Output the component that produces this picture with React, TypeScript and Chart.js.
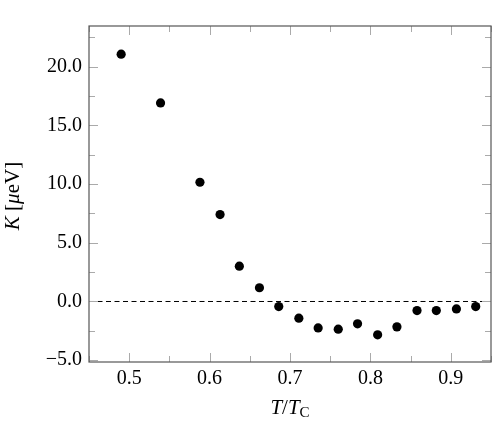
import { useEffect, useRef } from "react";
import { Chart, registerables } from "chart.js";

Chart.register(...registerables);

// Reduced temperature T/Tc and anisotropy constant K (µeV)
const temperatures = [0.49, 0.539, 0.588, 0.613, 0.637, 0.662, 0.686, 0.711, 0.735, 0.76, 0.784, 0.809, 0.833, 0.858, 0.882, 0.907, 0.931];
const kValues = [21.05, 16.9, 10.15, 7.4, 3.01, 1.17, -0.43, -1.42, -2.25, -2.36, -1.9, -2.84, -2.16, -0.77, -0.77, -0.63, -0.43];

const xRange = [0.45, 0.95];
const yRange = [-5.15, 23.45];
const xTickStep = 0.05;
const yTickStep = 2.5;
const xLabelStep = 0.1;
const yLabelStep = 5;

const FONT = '"Liberation Serif", "Times New Roman", serif';
const TICK_SIZE = 20;
const TITLE_SIZE = 21;

const isMultiple = (v: number, step: number) => {
  const r = v / step;
  return Math.abs(r - Math.round(r)) < 1e-6;
};

// Frame, inward tick marks and mathematical axis titles
const framePlugin = {
  id: "frame",
  afterDatasetsDraw(chart: any) {
    const { ctx, chartArea: a, scales } = chart;
    const xs = scales.x;
    const ys = scales.y;
    ctx.save();
    ctx.strokeStyle = "#aaaaaa";
    ctx.lineWidth = 1;
    ctx.beginPath();
    xs.ticks.forEach((t: any) => {
      const px = Math.round(xs.getPixelForValue(t.value)) + 0.5;
      const len = isMultiple(t.value, xLabelStep) ? 9 : 6;
      ctx.moveTo(px, a.bottom);
      ctx.lineTo(px, a.bottom - len);
      ctx.moveTo(px, a.top);
      ctx.lineTo(px, a.top + len);
    });
    ys.ticks.forEach((t: any) => {
      const py = Math.round(ys.getPixelForValue(t.value)) + 0.5;
      const len = isMultiple(t.value, yLabelStep) ? 9 : 6;
      ctx.moveTo(a.left, py);
      ctx.lineTo(a.left + len, py);
      ctx.moveTo(a.right, py);
      ctx.lineTo(a.right - len, py);
    });
    ctx.stroke();

    ctx.strokeStyle = "#555555";
    ctx.lineWidth = 1.2;
    ctx.strokeRect(a.left, a.top, a.right - a.left, a.bottom - a.top);
    ctx.restore();
  },
  afterDraw(chart: any) {
    const { ctx, chartArea: a } = chart;
    ctx.save();
    ctx.fillStyle = "#000";
    ctx.textBaseline = "alphabetic";

    // x title: T/T_C
    const big = TITLE_SIZE;
    const small = 15;
    const parts = [
      { t: "T", f: `italic ${big}px ${FONT}`, dy: 0 },
      { t: "/", f: `${big}px ${FONT}`, dy: 0 },
      { t: "T", f: `italic ${big}px ${FONT}`, dy: 0 },
      { t: "C", f: `${small}px ${FONT}`, dy: 3 },
    ];
    let w = 0;
    parts.forEach((p) => {
      ctx.font = p.f;
      w += ctx.measureText(p.t).width;
    });
    let x = (a.left + a.right) / 2 - w / 2;
    parts.forEach((p) => {
      ctx.font = p.f;
      ctx.fillText(p.t, x, 414 + p.dy);
      x += ctx.measureText(p.t).width;
    });

    // y title: K [µeV]
    const yParts = [
      { t: "K", f: `italic ${big}px ${FONT}` },
      { t: " [", f: `${big}px ${FONT}` },
      { t: "μ", f: `italic ${big}px ${FONT}` },
      { t: "eV]", f: `${big}px ${FONT}` },
    ];
    let yw = 0;
    yParts.forEach((p) => {
      ctx.font = p.f;
      yw += ctx.measureText(p.t).width;
    });
    ctx.translate(19, (a.top + a.bottom) / 2 + 2);
    ctx.rotate(-Math.PI / 2);
    let yx = -yw / 2;
    yParts.forEach((p) => {
      ctx.font = p.f;
      ctx.fillText(p.t, yx, 0);
      yx += ctx.measureText(p.t).width;
    });
    ctx.restore();
  },
};

export default function App() {
  const canvasRef = useRef<HTMLCanvasElement | null>(null);

  useEffect(() => {
    const canvas = canvasRef.current;
    if (!canvas) return;
    const chart = new Chart(canvas, {
      type: "scatter",
      data: {
        datasets: [
          {
            label: "K",
            data: temperatures.map((t, i) => ({ x: t, y: kValues[i] })),
            pointRadius: 4.6,
            pointBackgroundColor: "#000",
            pointBorderWidth: 0,
            borderWidth: 0,
            order: 0,
          },
          {
            type: "line",
            label: "zero",
            data: [
              { x: xRange[0], y: 0 },
              { x: xRange[1], y: 0 },
            ],
            borderColor: "#000",
            borderWidth: 1,
            borderDash: [5, 3.5],
            pointRadius: 0,
            showLine: true,
            order: 1,
          } as any,
        ],
      },
      options: {
        responsive: false,
        animation: false,
        events: [],
        layout: { padding: { left: 0, right: 2, top: 26, bottom: 0 } },
        plugins: {
          legend: { display: false },
          tooltip: { enabled: false },
        },
        scales: {
          x: {
            type: "linear",
            min: xRange[0],
            max: xRange[1],
            grid: { display: false, drawTicks: false },
            border: { display: false },
            afterFit: (s: any) => {
              s.height = 68;
            },
            ticks: {
              stepSize: xTickStep,
              includeBounds: false,
              autoSkip: false,
              maxRotation: 0,
              padding: 5,
              color: "#000",
              font: { family: FONT, size: TICK_SIZE },
              callback: (v: any) => {
                const n = Number(v);
                return isMultiple(n, xLabelStep) ? n.toFixed(1) : "";
              },
            },
          },
          y: {
            type: "linear",
            min: yRange[0],
            max: yRange[1],
            grid: { display: false, drawTicks: false },
            border: { display: false },
            afterFit: (s: any) => {
              s.width = 89;
            },
            ticks: {
              stepSize: yTickStep,
              includeBounds: false,
              autoSkip: false,
              padding: 7,
              color: "#000",
              font: { family: FONT, size: TICK_SIZE },
              callback: (v: any) => {
                const n = Number(v);
                return isMultiple(n, yLabelStep) ? n.toFixed(1).replace("-", "−") : "";
              },
            },
          },
        },
      },
      plugins: [framePlugin],
    });
    return () => chart.destroy();
  }, []);

  return (
    <div style={{ position: "fixed", left: 0, top: 0, width: 496, height: 430, background: "#fff" }}>
      <canvas ref={canvasRef} width={496} height={430} />
    </div>
  );
}
